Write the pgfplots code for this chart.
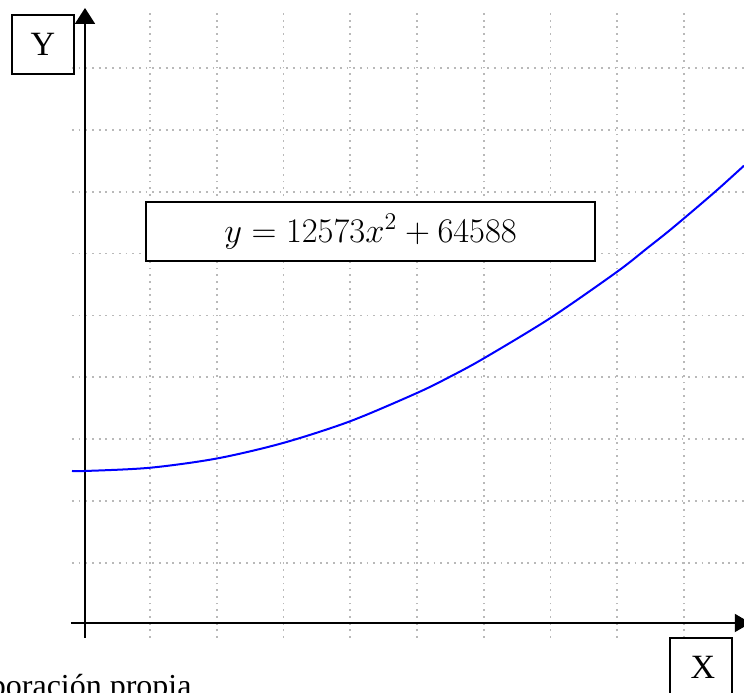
\documentclass[border=0pt]{standalone}
\usepackage{fontspec}
\setmainfont{Liberation Serif}
\usepackage{pgfplots}
\pgfplotsset{compat=1.18}
\usetikzlibrary{arrows.meta}

% curve, in grid units (x from the Y axis, y from the X axis)
\pgfplotstableread{
x       y
-0.169  2.488
0.041   2.488
1.000   2.540
2.004   2.690
2.993   2.940
3.996   3.290
5.000   3.748
5.494   4.010
5.989   4.300
6.993   4.955
7.996   5.705
8.446   6.085
8.745   6.340
9.045   6.610
9.494   7.025
9.899   7.420
}\curve

\begin{document}
\begin{tikzpicture}
\begin{axis}[
    width=372pt, height=346.5pt, scale only axis,
    xmin=-1.2472, xmax=9.8989,
    ymin=-1.0985, ymax=10.0969,
    axis lines=none, ticks=none,
    clip=false,
]
    % dotted grid
    \pgfplotsinvokeforeach{1,...,9}{
        \draw[gray!55, line width=0.9pt, dash pattern=on 0.9pt off 2.45pt]
            (axis cs:#1,-0.21) -- (axis cs:#1,9.903);
        \draw[gray!55, line width=0.9pt, dash pattern=on 0.9pt off 2.45pt]
            (axis cs:-0.17,#1) -- (axis cs:9.9,#1);
    }
    % axes
    \draw[black, line width=1pt, -{Triangle[length=8pt,width=10pt]}]
        (axis cs:0.026,-0.21) -- (axis cs:0.026,9.968);
    \draw[black, line width=1pt, -{Triangle[length=8pt,width=9pt]}]
        (axis cs:-0.184,0.032) -- (axis cs:10.0,0.032);

    \addplot[blue, line width=1pt, smooth] table[x=x, y=y] {\curve};

    % equation box
    \draw[black, line width=0.8pt, fill=white]
        (axis cs:0.940,5.880) rectangle (axis cs:7.667,6.834);
    \node[font=\fontsize{18.5}{21}\selectfont] at (axis cs:4.304,6.357)
        {$y = 12573x^2 + 64588$};

    % axis name boxes
    \draw[black, line width=0.8pt] (axis cs:-1.067,8.901) rectangle (axis cs:-0.139,9.855);
    \node[font=\fontsize{17}{20}\selectfont] at (axis cs:-0.603,9.386) {Y};
    \draw[black, line width=0.8pt] (axis cs:8.790,-1.212) rectangle (axis cs:9.719,-0.210);
    \node[font=\fontsize{17}{20}\selectfont] at (axis cs:9.284,-0.679) {X};

    \node[anchor=base east, inner sep=0pt, font=\fontsize{16}{19}\selectfont]
        at (axis cs:1.629,-1.163) {Elaboración propia};
\end{axis}
\pgfresetboundingbox
\useasboundingbox (current axis.south west) rectangle (current axis.north east);
\end{tikzpicture}
\end{document}
